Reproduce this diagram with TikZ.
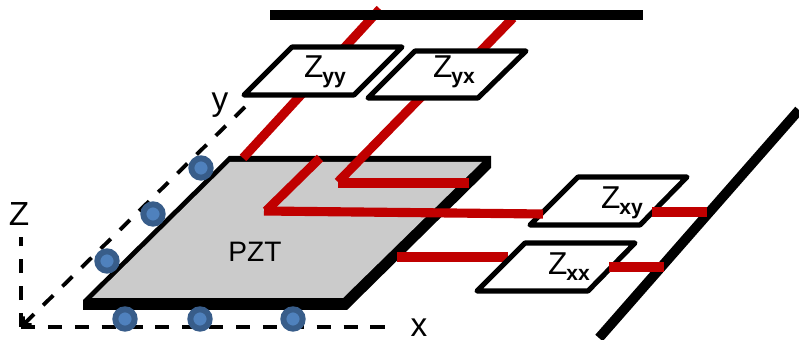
\documentclass[tikz,border=0pt]{standalone}
\usepackage{fontspec}
\setmainfont{Liberation Sans}
\usetikzlibrary{arrows.meta}
\definecolor{lead}{RGB}{192,0,0}
\definecolor{dotfill}{RGB}{79,129,189}
\definecolor{dotline}{RGB}{56,93,138}
\definecolor{pzt}{RGB}{203,203,203}
\tikzset{
  wire/.style={draw=lead, line width=5.2pt},
  bus/.style={draw=black, line width=5.6pt},
  axis/.style={draw=black, line width=2.2pt, dash pattern=on 8pt off 7.3pt},
  zbox/.style={draw=black, fill=white, line width=2.9pt, line join=round},
  zlabel/.style={inner sep=0pt, font=\fontsize{18}{20}\selectfont},
  axlabel/.style={inner sep=0pt, font=\fontsize{19}{21}\selectfont},
  sensor/.style={circle, fill=dotfill, draw=dotline, line width=3.4pt, minimum size=11pt, inner sep=0pt},
}
\newcommand{\zsub}[1]{Z\kern-0.5pt\raisebox{-3.4pt}{\fontsize{12}{13}\selectfont\bfseries #1}}
\begin{document}
\begin{tikzpicture}[x=0.02cm,y=-0.02cm]
  \useasboundingbox (0,0) rectangle (799,340);
  % axes
  \coordinate (origin) at (21,327);
  \coordinate (xend) at (395,327);
  \coordinate (yend) at (245,107);
  \coordinate (zend) at (21,237);
  \draw[axis] (origin) -- (xend);
  \draw[axis] (origin) -- (zend);
  \draw[axis, -{Straight Barb[length=3.5pt,width=7pt]}] (yend) -- (origin);
  \node[axlabel] (xlabel) at (419,328) {x};
  \node[axlabel] (ylabel) at (220,105) {y};
  \node[axlabel] (zlabel) at (19,214) {Z};
  % plate
  \fill[black] (83,310) -- (83,300) -- (229,156) -- (491,156) -- (491,168) -- (347,310) -- cycle;
  \fill[pzt] (92,298) -- (230,162) -- (482,162) -- (343,298) -- cycle;
  \node[inner sep=0pt, font=\fontsize{16}{18}\selectfont] (pzt) at (255,252) {PZT};
  \foreach \px/\py in {125/319, 200/319, 293/319, 107/261, 153/214, 201/168} {
    \node[sensor] at (\px,\py) {};
  }
  % leads behind the boxes
  \draw[wire] (380,9) -- (243,158);
  \draw[wire] (513,18) -- (476,56);
  \draw[wire] (424,94) -- (338,182);
  \draw[wire] (338,183) -- (469,183);
  \draw[wire] (397,257) -- (508,257);
  % bars
  \draw[bus] (270,15) -- (643,15);
  \draw[bus] (599,338) -- (799,110);
  % boxes
  \foreach \nm/\ax/\ay/\bx/\by/\cx/\cy/\dx/\dy/\lx/\ly/\lbl in {
    zyy/292/47/402/47/354/95/244/95/325/72/yy,
    zyx/415/51/526/51/478/98/368/98/454/72/yx,
    zxy/578/177/687/177/640/225/530/225/622/203/xy,
    zxx/525/243/635/243/588/291/477/291/569/267/xx} {
    \draw[zbox] (\ax,\ay) -- (\bx,\by) -- (\cx,\cy) -- (\dx,\dy) -- cycle;
    \node[zlabel] (\nm) at (\lx,\ly) {\zsub{\lbl}};
  }
  % leads on top
  \draw[wire] (320,158) -- (266,211);
  \draw[wire] (264,211) -- (543,214);
  \draw[wire] (652,212) -- (707,212);
  \draw[wire] (609,267) -- (664,267);
\end{tikzpicture}
\end{document}
